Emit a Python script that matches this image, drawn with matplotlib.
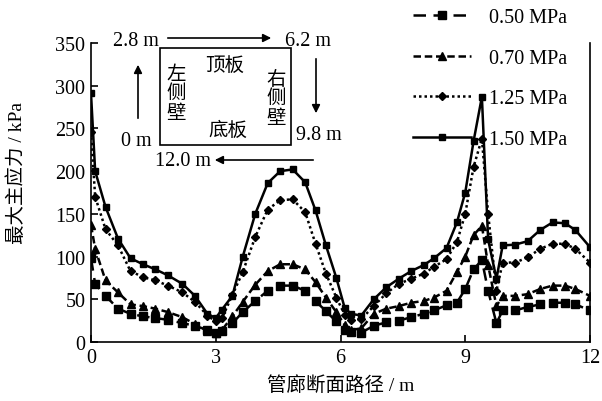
import matplotlib as mpl
mpl.use('Agg')
from matplotlib import pyplot as plt
from matplotlib.patches import Rectangle, FancyArrowPatch

plt.rcParams['font.family'] = ['Liberation Serif', 'Noto Sans CJK SC']
plt.rcParams['font.size'] = 14
plt.rcParams['axes.unicode_minus'] = False

# path position along the pipe gallery section (m)
x = [0, 0.1, 0.35, 0.65, 0.95, 1.25, 1.55, 1.85, 2.2, 2.5, 2.8, 3.0, 3.15, 3.4,
     3.65, 3.95, 4.25, 4.55, 4.85, 5.15, 5.4, 5.65, 5.9, 6.1, 6.25, 6.5, 6.8,
     7.1, 7.4, 7.7, 8.0, 8.25, 8.55, 8.8, 9.0, 9.2, 9.4, 9.55, 9.75, 9.9, 10.2,
     10.5, 10.8, 11.1, 11.4, 11.65, 12.0]

p050 = [98, 68, 54, 39, 33, 30, 28, 26, 22, 19, 14, 10, 13, 22,
        35, 48, 60, 66, 66, 60, 48, 36, 24, 14, 12, 11, 19,
        23, 25, 29, 33, 37, 43, 46, 62, 85, 96, 60, 22, 37, 37,
        41, 44, 46, 46, 44, 37]
p070 = [137, 109, 72, 58, 44, 42, 39, 35, 29, 21, 13, 10, 14, 30,
        47, 67, 83, 91, 91, 85, 70, 52, 35, 20, 14, 16, 33,
        39, 42, 46, 48, 52, 60, 82, 100, 125, 136, 90, 42, 54, 54,
        56, 62, 66, 66, 62, 54]
p125 = [246, 170, 132, 113, 83, 76, 72, 66, 58, 47, 31, 24, 28, 55,
        82, 123, 155, 166, 167, 152, 115, 80, 52, 32, 26, 27, 42,
        57, 68, 74, 80, 88, 97, 117, 150, 205, 238, 150, 60, 93, 93,
        99, 109, 115, 115, 109, 93]
p150 = [291, 200, 158, 121, 98, 91, 85, 78, 68, 54, 33, 28, 38, 54,
        100, 150, 186, 200, 202, 187, 154, 113, 75, 40, 33, 31, 50,
        64, 74, 83, 90, 98, 110, 140, 175, 235, 287, 120, 74, 113, 114,
        118, 131, 140, 139, 131, 111]

labels = ['0.50 MPa', '0.70 MPa', '1.25 MPa', '1.50 MPa']

W, H = 602, 402
fig = plt.figure(figsize=(W / 100, H / 100), dpi=100)
ax = fig.add_axes([91 / W, 1 - 343 / H, (590 - 91) / W, (343 - 44) / H])

ax.plot(x, p050, color='k', lw=1.8, ls=(0, (5, 3)), marker='s', ms=6, label=labels[0])
ax.plot(x, p070, color='k', lw=1.8, ls=(0, (3, 1.5)), marker='^', ms=5.5, label=labels[1])
ax.plot(x, p125, color='k', lw=1.8, ls=(0, (1, 1.2)), marker='D', ms=4, label=labels[2])
ax.plot(x, p150, color='k', lw=1.8, ls='-', marker='s', ms=4.5, label=labels[3])

ax.set_xlim(0, 12)
ax.set_ylim(0, 350)
ax.set_xticks([0, 3, 6, 9, 12])
ax.set_yticks(range(0, 351, 50))
ax.tick_params(direction='in', length=5, width=1.2, labelsize=14.5, pad=4)
ax.spines['top'].set_visible(False)
for s in ['left', 'bottom', 'right']:
    ax.spines[s].set_linewidth(1.2)
ax.set_xlabel('管廊断面路径 / m', fontsize=14, labelpad=6)
ax.set_ylabel('最大主应力 / kPa', fontsize=14)
ax.yaxis.set_label_coords(-0.13, 0.57)

fig.legend(loc='upper left', bbox_to_anchor=(413 / W, 1 - 9 / H), frameon=False,
           borderpad=0, borderaxespad=0, handlelength=2.9, handletextpad=0.85,
           labelspacing=1.07, numpoints=1, fontsize=14.5)


# inset sketch of the gallery cross-section path (figure pixel positions)
def fx(px):
    return px / W


def fy(py):
    return 1 - py / H


fig.patches.append(Rectangle((fx(160), fy(146)), fx(291) - fx(160), fy(49) - fy(146),
                             transform=fig.transFigure, fill=False, lw=1.2, ec='k'))
arrow = dict(arrowstyle='-|>', color='k', lw=1.2, mutation_scale=12,
             transform=fig.transFigure)
fig.add_artist(FancyArrowPatch((fx(165), fy(39)), (fx(274), fy(39)), **arrow))
fig.add_artist(FancyArrowPatch((fx(316), fy(57)), (fx(316), fy(117)), **arrow))
fig.add_artist(FancyArrowPatch((fx(316), fy(161)), (fx(212), fy(161)), **arrow))
fig.add_artist(FancyArrowPatch((fx(138), fy(122)), (fx(138), fy(63)), **arrow))

fig.text(fx(159), fy(41), '2.8 m', ha='right', va='center', fontsize=14.5)
fig.text(fx(285), fy(41), '6.2 m', ha='left', va='center', fontsize=14.5)
fig.text(fx(296), fy(136), '9.8 m', ha='left', va='center', fontsize=14.5)
fig.text(fx(211), fy(162), '12.0 m', ha='right', va='center', fontsize=14.5)
fig.text(fx(152), fy(141), '0 m', ha='right', va='center', fontsize=14.5)
fig.text(fx(225), fy(66), '顶板', ha='center', va='center', fontsize=14)
fig.text(fx(228), fy(131), '底板', ha='center', va='center', fontsize=14)
for i, ch in enumerate('左侧壁'):
    fig.text(fx(176), fy(75 + 19.5 * i), ch, ha='center', va='center', fontsize=14)
for i, ch in enumerate('右侧壁'):
    fig.text(fx(276), fy(80 + 19.5 * i), ch, ha='center', va='center', fontsize=14)

fig.savefig('out.png', dpi=100)
